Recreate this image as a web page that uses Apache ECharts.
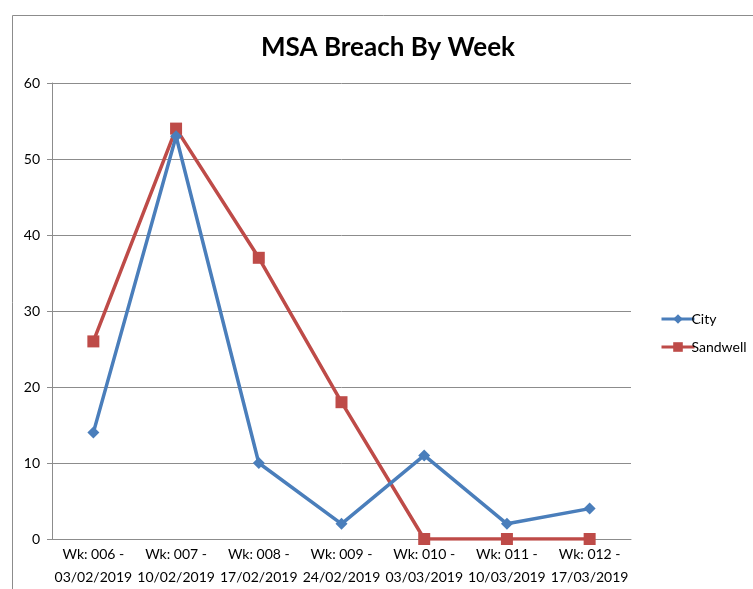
<!DOCTYPE html>
<html>
<head>
<meta charset="utf-8">
<script src="https://cdn.jsdelivr.net/npm/echarts@6/dist/echarts.min.js"></script>
<style>
  html, body { margin: 0; padding: 0; background: #fff; }
  #chart { width: 753px; height: 589px; }
</style>
</head>
<body>
<div id="chart"></div>
<script>
// data
const weeks = [
  'Wk: 006 -\n03/02/2019',
  'Wk: 007 -\n10/02/2019',
  'Wk: 008 -\n17/02/2019',
  'Wk: 009 -\n24/02/2019',
  'Wk: 010 -\n03/03/2019',
  'Wk: 011 -\n10/03/2019',
  'Wk: 012 -\n17/03/2019'
];
const city = [14, 53, 10, 2, 11, 2, 4];
const sandwell = [26, 54, 37, 18, 0, 0, 0];

const font = 'Lato, "Open Sans", sans-serif';

const chart = echarts.init(document.getElementById('chart'));
chart.setOption({
  animation: false,
  backgroundColor: '#fff',
  graphic: [{
    type: 'rect',
    shape: { x: 12.5, y: 15.5, width: 800, height: 640 },
    style: { fill: 'none', stroke: '#8c8c8c', lineWidth: 1 },
    silent: true
  }],
  title: {
    text: 'MSA Breach By Week',
    left: 383,
    top: 30,
    textAlign: 'center',
    textStyle: { fontFamily: font, fontSize: 26, fontWeight: 'bold', color: '#000' }
  },
  legend: {
    orient: 'vertical',
    left: 655,
    top: 307,
    itemWidth: 33,
    itemHeight: 12,
    itemGap: 14,
    lineStyle: { width: 3 },
    textStyle: { fontFamily: font, fontSize: 14, color: '#000', padding: [0, 0, 0, -8] },
    data: ['City', 'Sandwell']
  },
  grid: { left: 52, right: 122, top: 83, bottom: 50 },
  xAxis: {
    type: 'category',
    data: weeks,
    boundaryGap: true,
    axisLine: { lineStyle: { color: '#8c8c8c' } },
    axisTick: { length: 5, lineStyle: { color: '#8c8c8c' } },
    axisLabel: { interval: 0, fontFamily: font, fontSize: 14, color: '#000', lineHeight: 23, margin: 4 }
  },
  yAxis: {
    type: 'value',
    min: 0,
    max: 60,
    interval: 10,
    axisLine: { show: true, lineStyle: { color: '#8c8c8c' } },
    axisTick: { show: true, length: 5, lineStyle: { color: '#8c8c8c' } },
    splitLine: { lineStyle: { color: '#8c8c8c' } },
    axisLabel: { fontFamily: font, fontSize: 14, color: '#000', margin: 12 }
  },
  series: [
    {
      name: 'City',
      type: 'line',
      data: city,
      symbol: 'diamond',
      symbolSize: 12,
      color: '#4a7ebb',
      lineStyle: { width: 3.5 },
      z: 3
    },
    {
      name: 'Sandwell',
      type: 'line',
      data: sandwell,
      symbol: 'rect',
      symbolSize: 12,
      color: '#be4b48',
      lineStyle: { width: 3.5 },
      z: 2
    }
  ]
});
</script>
</body>
</html>
